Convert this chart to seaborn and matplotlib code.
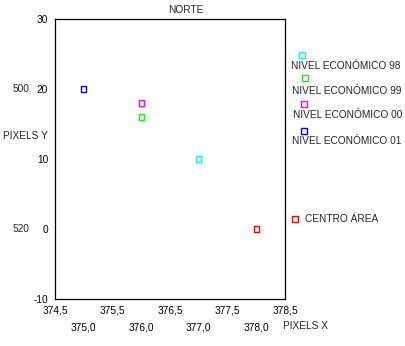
import matplotlib
matplotlib.use("Agg")
import matplotlib.pyplot as plt
from matplotlib.lines import Line2D
import seaborn as sns
import pandas as pd

# Series plotted in the NORTE panel
series = ["NIVEL ECONÓMICO 98", "NIVEL ECONÓMICO 99", "NIVEL ECONÓMICO 00",
          "NIVEL ECONÓMICO 01", "CENTRO ÁREA"]
pixels_x = [377.0, 376.0, 376.0, 375.0, 378.0]
pixels_y = [10.0, 16.0, 18.0, 20.0, 0.0]
colors = ["#00FFFF", "#00FF00", "#FF00FF", "#0000FF", "#FF0000"]

x_major = [374.5, 375.5, 376.5, 377.5, 378.5]
x_minor = [375.0, 376.0, 377.0, 378.0]
y_ticks = [-10, 0, 10, 20, 30]
y_side_labels = {20: "500", 0: "520"}

df = pd.DataFrame({"x": pixels_x, "y": pixels_y, "serie": series})
palette = dict(zip(series, colors))

sns.set_style("white")
plt.rcParams["font.family"] = ["Liberation Sans", "DejaVu Sans"]
FS = 7.3

W, H = 406, 346
fig = plt.figure(figsize=(W / 100, H / 100), dpi=100)
L, R, T, B = 55, 285, 19, 299
ax = fig.add_axes([L / W, 1 - B / H, (R - L) / W, (B - T) / H])

sns.scatterplot(data=df, x="x", y="y", hue="serie", palette=palette,
                marker="s", s=14, linewidth=1.0, legend=False, ax=ax)
pts = ax.collections[0]
pts.set_edgecolors(pts.get_facecolors())
pts.set_facecolors("none")

ax.set_xlim(374.5, 378.5)
ax.set_ylim(-10, 30)

ax.set_xticks(x_major)
ax.set_xticklabels([f"{v:.1f}".replace(".", ",") for v in x_major])
ax.set_xticks(x_minor, minor=True)
ax.set_xticklabels([f"{v:.1f}".replace(".", ",") for v in x_minor], minor=True)
ax.set_yticks(y_ticks)
ax.set_yticklabels([str(v) for v in y_ticks])

ax.tick_params(axis="both", which="both", direction="out", length=2,
               width=2.2, color="black", labelsize=FS, labelcolor="black")
ax.tick_params(axis="x", which="major", pad=3)
ax.tick_params(axis="x", which="minor", pad=15)
ax.tick_params(axis="y", which="major", pad=3)

for sp in ax.spines.values():
    sp.set_visible(True)
    sp.set_color("black")
    sp.set_linewidth(0.9)

ax.set_xlabel("")
ax.set_ylabel("")

# secondary labels on the left
ytr = ax.get_yaxis_transform()
for val, lab in y_side_labels.items():
    ax.text(-0.148, val, lab, transform=ytr, ha="center", va="center",
            fontsize=FS)
fig.text(25 / W, 1 - 136 / H, "PIXELS Y", ha="center", va="center", fontsize=FS)
fig.text(283 / W, 1 - 326 / H, "PIXELS X", ha="left", va="center", fontsize=FS)
fig.text(186 / W, 1 - 10 / H, "NORTE", ha="center", va="center", fontsize=FS)

# legend: marker above each label, centre marker beside its label
legend_items = [
    (series[0], colors[0], (302.3, 55.3), (291.0, 66.0)),
    (series[1], colors[1], (305.3, 78.3), (291.7, 90.5)),
    (series[2], colors[2], (304.0, 104.0), (292.7, 115.5)),
    (series[3], colors[3], (304.3, 131.0), (291.7, 141.5)),
    (series[4], colors[4], (295.0, 219.3), (305.0, 219.5)),
]
for name, col, (mx, my), (tx, ty) in legend_items:
    fig.add_artist(Line2D([mx / W], [1 - my / H], marker="s", markersize=3.8,
                          markerfacecolor="none", markeredgecolor=col,
                          markeredgewidth=1.0, linestyle="none",
                          transform=fig.transFigure))
    fig.text(tx / W, 1 - ty / H, name, ha="left", va="center", fontsize=FS)

fig.savefig("out.png", dpi=100, facecolor="white")
